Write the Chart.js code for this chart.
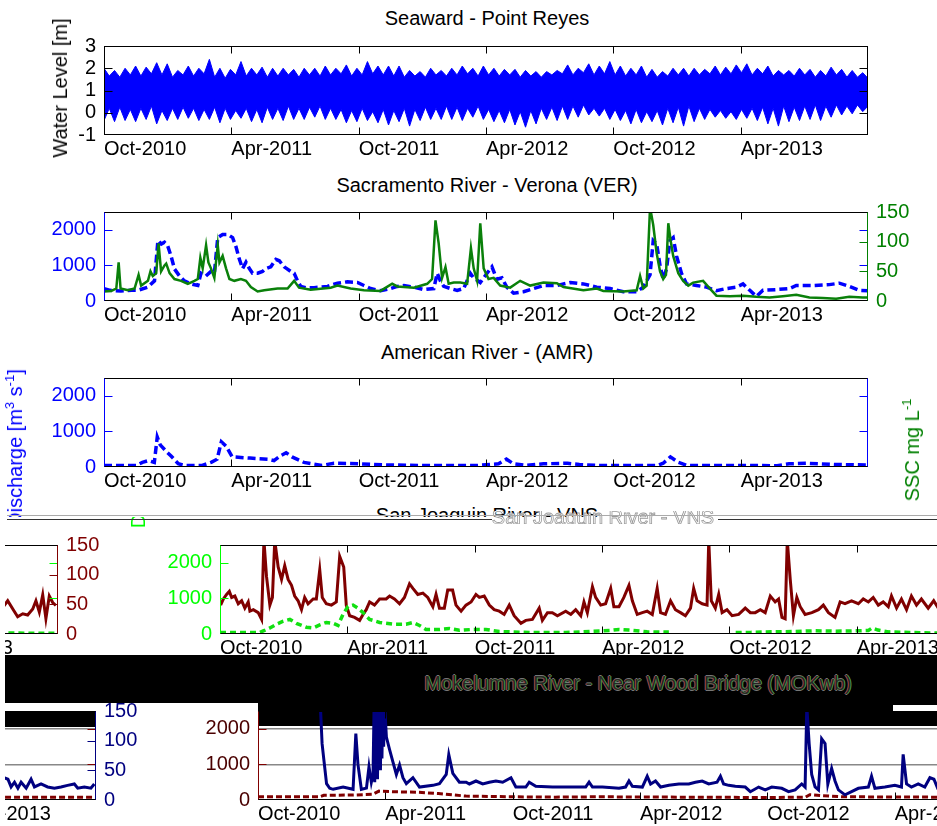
<!DOCTYPE html>
<html>
<head>
<meta charset="utf-8">
<title>Water level, discharge and SSC</title>
<script src="https://cdn.jsdelivr.net/npm/chart.js@4.4.1/dist/chart.umd.min.js"></script>
<style>
  html, body { margin:0; padding:0; background:#fff; }
  body { position:relative; width:937px; height:826px; overflow:hidden; font-family:'Liberation Sans', Arial, Helvetica, sans-serif; }
  .band { position:absolute; left:0; width:937px; overflow:hidden; }
  canvas { position:absolute; }
  .txt { position:absolute; font-size:20px; line-height:24px; white-space:nowrap; }
  .ctr { transform:translateX(-50%); }
  .rot { transform:translate(-50%,-50%) rotate(-90deg); }
  sup { font-size:13px; line-height:0; vertical-align:8px; }
  .blk { position:absolute; background:#000; }
  .rule { position:absolute; height:1px; }
</style>
</head>
<body>

<div id="upper" class="band" style="top:0;height:517px">
  <div class="txt ctr" style="left:487px;top:6px">Seaward - Point Reyes</div>
  <canvas id="c1" width="937" height="145" style="left:0;top:26px"></canvas>
  <div class="txt rot" style="left:60px;top:88px">Water Level [m]</div>

  <div class="txt ctr" style="left:487px;top:173px">Sacramento River - Verona (VER)</div>
  <canvas id="c2" width="937" height="145" style="left:0;top:192px"></canvas>

  <div class="txt ctr" style="left:487px;top:340px">American River - (AMR)</div>
  <canvas id="c3" width="937" height="145" style="left:0;top:358px"></canvas>

  <div class="txt rot" style="left:15px;top:448px;color:#0000ff">Discharge [m<sup>3</sup> s<sup>-1</sup>]</div>
  <div class="txt rot" style="left:912px;top:450px;color:#008000">SSC mg L<sup>-1</sup></div>

  <div class="txt ctr" style="left:487px;top:503px">San Joaquin River - VNS</div>
</div>

<div id="middle" class="band" style="top:517px;height:138px">
  <canvas id="c4a" width="937" height="145" style="left:116px;top:8px"></canvas>
  <canvas id="c4b" width="937" height="145" style="left:-810px;top:8px"></canvas>
  <div class="txt rot" style="left:138px;top:4px;color:#00ff00">D</div>
</div>

<div class="band" style="top:511px;height:13px">
  <div class="txt ctr" style="left:603px;top:-6px;color:#fff;-webkit-text-stroke:0.8px #999">San Joaquin River - VNS</div>
</div>
<div class="rule" style="left:7px;top:515px;width:930px;background:#aaa"></div>
<div class="rule" style="left:7px;top:519px;width:485px;background:#333"></div>
<div class="rule" style="left:718px;top:519px;width:219px;background:#333"></div>

<div id="lower" class="band" style="top:655px;height:171px">
  <div class="blk" style="left:5px;top:0;width:932px;height:48px"></div>
  <div class="blk" style="left:258px;top:48px;width:679px;height:23px"></div>
  <div class="blk" style="left:5px;top:57px;width:90px;height:15px"></div>
  <div style="position:absolute;left:893px;top:50px;width:44px;height:7px;background:#fff"></div>
  <div class="txt ctr" style="left:638px;top:16px;color:#262626;text-shadow:1px 0 0 #4a9a4a,-1px 0 0 #a04848,0 1px 0 #777,0 -1px 0 #777">Mokelumne River - Near Wood Bridge (MOKwb)</div>
  <canvas id="c5a" width="937" height="145" style="left:154px;top:36px"></canvas>
  <canvas id="c5b" width="937" height="145" style="left:-772px;top:36px"></canvas>
</div>

<div style="position:absolute;left:0;top:521px;width:5px;height:305px;background:#fff"></div>

<script>
// ---- time axis: months since 1 Oct 2010 ----
const xTickMonths = [0, 6, 12, 18, 24, 30, 36];
const xTickLabels = ['Oct-2010', 'Apr-2011', 'Oct-2011', 'Apr-2012', 'Oct-2012', 'Apr-2013', ''];

// ---- Point Reyes water level [m]: high/low envelope per half spring-neap cycle ----
const tideHighSpring = [2.0,1.9,2.0,2.1,2.05,2.25,2.2,1.9,2.1,2.0, 2.4,2.0,1.95,2.3,2.0,2.05,2.0,2.0,1.95,2.0,
  2.0,2.1,2.0,2.15,2.0,2.3,2.1,2.1,2.1,1.9, 1.85,2.0,1.9,2.0,2.1,2.0,2.1,2.0,1.95,1.95,
  1.9,1.85,1.85,1.9,2.15,2.0,2.2,2.1,2.3,2.1, 2.0,2.1,1.95,1.85,2.0,2.0,2.0,1.95,2.1,2.05,
  2.15,2.2,2.0,2.1,1.9,1.9,2.0,1.95,1.9,2.05, 1.95,1.9,1.8];
const tideHighNeap = [1.65,1.6,1.7,1.65,1.75,1.7,1.6,1.7,1.65,1.75, 1.6,1.55,1.7,1.65,1.7,1.6,1.65,1.7,1.6,1.7,
  1.65,1.7,1.75,1.65,1.7,1.75,1.7,1.65,1.6,1.65, 1.6,1.7,1.65,1.7,1.75,1.65,1.7,1.65,1.7,1.6,
  1.65,1.6,1.7,1.75,1.7,1.8,1.7,1.75,1.7,1.65, 1.7,1.6,1.6,1.65,1.7,1.65,1.7,1.75,1.7,1.75,
  1.8,1.7,1.75,1.65,1.7,1.65,1.7,1.6,1.65,1.7, 1.6,1.6,1.55];
const tideLowSpring = [-0.35,-0.4,-0.35,-0.4,-0.3,-0.5,-0.35,-0.3,-0.25,-0.35, -0.3,-0.45,-0.3,-0.25,-0.4,-0.45,-0.3,-0.35,-0.3,-0.3,
  -0.2,-0.3,-0.3,-0.45,-0.4,-0.35,-0.45,-0.55,-0.4,-0.6, -0.35,-0.3,-0.3,-0.3,-0.35,-0.2,-0.3,-0.4,-0.45,-0.55,
  -0.65,-0.5,-0.3,-0.35,-0.3,-0.2,-0.1,-0.15,-0.3,-0.35, -0.5,-0.45,-0.4,-0.55,-0.45,-0.6,-0.4,-0.3,-0.2,-0.25,
  -0.3,-0.25,-0.35,-0.5,-0.6,-0.4,-0.35,-0.3,-0.35,-0.2, -0.1,-0.05,0.05];
const tideLowNeap = [0.2,0.25,0.15,0.2,0.3,0.1,0.2,0.25,0.2,0.15, 0.25,0.2,0.1,0.2,0.15,0.25,0.2,0.3,0.2,0.25,
  0.3,0.2,0.15,0.1,0.2,0.05,0.15,0.1,0.2,0.15, 0.25,0.2,0.3,0.25,0.2,0.3,0.15,0.1,0.15,0.05,
  0.1,0.2,0.25,0.3,0.3,0.35,0.2,0.2,0.15,0.1, 0.15,0.05,0.1,0.2,0.25,0.3,0.2,0.15,0.1,0.05,
  0.15,0.2,0.25,0.2,0.3,0.25,0.3,0.35,0.3,0.35, 0.3,0.35,0.3];

// ---- Sacramento River at Verona ----
const verQMonth = [0,0.3,0.8,1.3,1.6,2.07,2.38,2.54,2.7,2.85, 3.0,3.16,3.32,3.56,3.79,4.10,4.42,4.57,4.8,5.04,
  5.2,5.36,5.59,5.83,6.06,6.22,6.38,6.53,6.69,6.85, 7.0,7.24,7.47,7.63,7.86,8.10,8.26,8.49,8.80,8.96,
  9.12,9.27,9.51,9.9,10.53,11.0,11.47,11.94,12.25,12.56, 13.03,13.50,13.82,14.13,14.60,15.07,15.54,15.70,15.85,16.01,
  16.32,16.64,16.95,17.26,17.42,17.73,18.05,18.28,18.51,18.75, 18.98,19.30,19.77,20.24,20.71,21.34,21.97,22.59,23.22,23.85,
  24.47,25.10,25.41,25.73,25.88,26.04,26.20,26.35,26.51,26.67, 26.82,26.98,27.21,27.45,27.92,28.39,28.86,29.33,29.80,30.11,
  30.43,30.74,31.05,31.68,32.30,32.62,33.40,34.18,34.65,35.12, 35.59,36];
const verQ = [348,300,280,300,300,390,565,1700,1600,1650, 1550,1260,900,700,565,480,435,780,700,830,
  780,1780,1870,1870,1780,1520,1170,910,1090,910, 780,780,830,910,960,1170,1130,960,830,780,
  565,410,375,375,410,500,540,520,435,350, 290,350,410,435,390,320,350,780,565,410,
  350,300,350,780,650,520,780,960,610,650, 390,220,260,350,435,435,520,480,390,350,
  260,260,390,740,1700,1610,1000,610,910,1700, 1780,1260,780,480,435,390,290,350,390,480,
  300,130,300,320,350,435,435,460,500,410, 300,290];
const verSscMonth = [0,0.34,0.58,0.69,0.78,1.13,1.44,1.63,1.75,2.07, 2.19,2.30,2.46,2.57,2.69,2.85,2.93,3.09,3.32,3.63,
  3.95,4.26,4.42,4.54,4.65,4.81,4.92,5.04,5.20,5.36, 5.44,5.59,5.75,5.91,6.14,6.45,6.69,6.92,7.24,7.55,
  8.18,8.65,8.96,9.19,9.74,10.68,11.0,11.62,12.25,13.03, 13.58,13.82,14.60,15.23,15.46,15.62,15.77,15.93,16.09,16.24,
  16.48,16.79,17.11,17.29,17.42,17.58,17.73,17.89,18.12,18.36, 18.67,19.14,19.61,20.08,20.71,21.34,21.65,22.59,23.22,23.53,
  24.47,25.10,25.26,25.41,25.57,25.73,25.88,26.04,26.20,26.35, 26.48,26.59,26.70,26.82,27.06,27.29,27.53,27.76,28.23,28.55,
  28.86,29.49,30.11,30.74,31.36,31.99,32.62,33.24,33.87,34.50, 35.12,35.75,36];
const verSsc = [16,17,21,65,21,18,21,44,26,34, 50,42,47,97,50,60,63,47,37,34,
  29,34,37,73,55,94,65,55,39,94, 65,76,55,37,34,37,34,23.5,16,18,
  21,21,34,22.5,19,22.5,26,21,18,17, 29,24.5,22.5,29,37,136,97,39,57,29,
  31,31,29,89,55,34,131,55,37,39, 26,22.5,34,26,31,30,23.5,18,21,17,
  16,18,42,21,26,158,128,81,50,37, 44,131,102,76,47,34,26,31,34,21,
  9,8,9,7,6,8,10.5,6,5,4, 7,6,6];

// ---- American River ----
const amrMonth = [0,1.52,1.81,2.09,2.37,2.51,2.65,2.93,3.16,3.50, 3.78,4.63,5.05,5.33,5.53,5.76,6.04,6.88,7.73,8.01,
  8.30,8.58,8.86,9.42,10.27,10.84,11.96,13.09,14.79,17.61, 18.59,18.96,19.30,19.86,20.71,21.84,22.40,23.25,26.07,26.35,
  26.69,27.06,27.48,30.02,31.72,32.28,33.13,34.54,36];
const amrQ = [45,45,130,180,130,840,620,440,310,90, 45,45,130,220,710,580,285,250,220,180,
  310,400,285,130,45,105,90,60,45,45, 90,220,90,45,90,105,70,45,45,105,
  285,130,45,45,35,90,105,70,55];

// ---- San Joaquin River at Vernalis ----
const vnsQMonth = [0,1.88,2.04,2.35,2.66,2.98,3.29,3.60,4.07,4.39, 4.70,5.01,5.33,5.56,5.80,6.03,6.27,6.50,6.74,7.05,
  7.52,8.15,8.77,9.09,9.40,9.71,10.34,10.81,11.28,11.90, 12.53,13.16,14.72,16.29,17.0,18.41,18.8,19.27,20.13,21.15,
  21.2,24.3,25.0,26.0,27.0,28.0,29.0,29.76,30.55,30.73, 31.0,31.5,32.5,33.5,35,36];
const vnsQ = [43,43,85,170,275,360,410,300,190,170, 256,325,300,240,555,770,812,726,600,410,
  325,275,275,325,240,128,128,154,103,128, 128,68,43,43,60,100,128,110,60,55,
  null,40,45,60,70,90,80,85,100,170, 110,60,43,30,20,20];
const vnsSscMonth = [0.03,0.16,0.31,0.44,0.55,0.70,0.86,1.02,1.17,1.33, 1.41,1.57,1.80,1.96,2.07,2.19,2.35,2.47,2.58,2.74,
  2.90,3.05,3.21,3.37,3.52,3.68,3.84,3.99,4.15,4.39, 4.54,4.70,4.82,5.01,5.25,5.48,5.64,5.83,5.95,6.11,
  6.34,6.58,6.74,6.89,7.05,7.28,7.52,7.83,7.99,8.22, 8.46,8.69,8.93,9.09,9.32,9.56,9.79,10.03,10.18,10.34,
  10.57,10.73,10.96,11.12,11.36,11.59,11.83,12.06,12.22,12.45, 12.69,12.92,13.16,13.39,13.63,13.86,14.18,14.41,14.72,15.04,
  15.19,15.43,15.66,15.90,16.29,16.53,16.76,17.00,17.15,17.31, 17.55,17.70,17.94,18.17,18.41,18.56,18.80,19.03,19.27,19.43,
  19.66,19.90,20.13,20.37,20.60,20.76,20.99,21.23,21.46,21.70, 21.93,22.17,22.32,22.48,22.72,22.95,23.03,23.15,23.34,23.50,
  23.66,23.89,24.13,24.44,24.75,24.99,25.22,25.46,25.69,25.93, 26.16,26.32,26.48,26.63,26.73,26.87,27.02,27.18,27.34,27.57,
  27.89,28.20,28.43,28.67,28.98,29.22,29.45,29.76,30.08,30.31, 30.55,30.78,31.02,31.25,31.49,31.64,31.88,32.11,32.35,32.58,
  32.82,33.05,33.37,33.63,33.87,34.10,34.34,34.57,34.81,34.96, 35.12,35.28,35.43,35.59,35.75,35.90];
const vnsSsc = [48.7,59,66.7,71.8,61.6,64,51,56,43.6,54, 38.5,41,36,24.6,158,97.5,48.7,61.6,158,113,
  92,115,92,82,64,56,41,61.6,51,59, 59,108,61.6,51,48.7,54,131,113,48.7,30.8,
  28,23,33,41,54,48.7,59,59,64,59, 51,61.6,84.6,77,66.7,69,61.6,46,66.7,43.6,
  43.6,74,74,48.7,38.5,48.7,54,66.7,61.6,64, 48.7,41,38.5,33,48.7,30.8,18,23,24.6,43.6,
  23,36,36,30.8,38.5,33,41,30.8,54,36, 79.5,61.6,48.7,51,77,46,46,61.6,82,56,
  33,36,38.5,33,77,36,33,56,41,36, 30.8,43.6,77,56,51,48.7,158,56,43.6,66.7,
  36,41,30.8,33,43.6,36,36,41,36,64, 54,59,28,25.6,158,92,30.8,61.6,46,33,
  36,41,48.7,36,28,54,51,56,51,59, 54,61.6,48.7,54,46,64,43.6,59,41,64,
  48.7,59,43.6,56,42,29,34,32,42,56, 37,66,26,64,53,48];

// ---- Mokelumne River near Wood Bridge ----
const mokQMonth = [0,2.9,3.1,4.5,5.4,5.7,6.5,7.5,8.5,9.8, 12,14,16,18,20,22,24,25.8,26.0,26.6, 27.5,30,32,34,36];
const mokQ = [90,90,130,140,160,250,230,220,180,110, 90,80,90,85,80,75,70,80,150,120, 90,85,80,80,75];
const mokSscMonth = [2.94,3.02,3.10,3.23,3.38,3.54,4.01,4.48,4.61,4.71, 4.87,5.11,5.23,5.34,5.42,5.47,5.50,5.53,5.57,5.60,
  5.63,5.67,5.70,5.73,5.77,5.80,5.84,5.88,5.92,5.97, 6.05,6.20,6.36,6.52,6.67,6.83,6.99,7.30,7.61,8.24,
  8.55,8.87,8.99,9.18,9.49,9.81,9.96,10.27,10.59,10.90, 11.21,11.53,11.92,12.15,12.62,12.78,13.09,13.88,14.66,15.44,
  15.60,15.76,16.23,17.01,17.32,17.48,17.64,18.11,18.34,18.50, 18.73,18.97,19.36,19.83,20.30,20.61,20.93,21.24,21.63,21.79,
  21.94,22.18,22.49,22.96,23.20,23.59,23.90,24.21,24.68,25.00, 25.31,25.62,25.78,25.86,25.97,26.09,26.25,26.41,26.56,26.72,
  26.85,27.03,27.19,27.35,27.66,27.97,28.29,28.76,28.91,29.07, 29.54,30.01,30.32,30.40,30.56,30.79,31.11,31.42,31.66,31.85,
  32.0,32.16,32.32,32.47,32.71,32.94,33.10,33.41,33.72,34.04, 34.35,34.66,34.98,35.14,35.45,35.76,35.92];
const mokSsc = [158,95,69,27.6,19.7,18,21.8,18,112,60, 18,20,56,30,43,158,30,158,40,158,
  35,158,60,158,50,158,70,158,90,158, 106,85,64,43,59,37.6,27.6,37.6,21.8,24.7,
  27.6,43,76.6,45,30,30,27,32,27,30, 32,30,37.6,21.8,21.8,30,23,21.8,21.8,21.8,
  30,21.8,21.8,19.7,21.8,32,23,21.8,40,27, 32,21.8,24.7,27,27,30,32,27,30,40,
  27,24.7,23,21.8,14,21.8,17,21.8,19.7,14, 17,27,21.8,158,95,43,22,17,103,95,
  27,53,32,17,8.7,14,19.7,21.8,40,19.7, 21.8,24.7,21.8,77,27,21.8,27,21.8,37.6,35,
  22,30,20,30,20,35,22,27,22,20, 22,24.7,27,20,22,20,27];

// ---- axis ranges ----
const levelTicks = [-1, 0, 1, 2, 3];
const flowTicks = [0, 1000, 2000];
const sscTicks = [0, 50, 100, 150];

// ---- layout constants ----
const PLOT_LEFT = 104, PLOT_RIGHT = 868, CANVAS_W = 937, PAD_TOP = 14, X_AXIS_H = 36;

Chart.defaults.font.family = "'Liberation Sans', Arial, Helvetica, sans-serif";
Chart.defaults.font.size = 20;
Chart.defaults.color = '#000';

const pts = (xs, ys) => xs.map((x, i) => ({ x, y: ys[i] }));

// Box outline with inward tick marks on all four sides
const frame = {
  id: 'frame',
  afterDatasetsDraw(chart, _args, o) {
    const { ctx, chartArea: a, scales } = chart;
    const L = Math.round(a.left) + 0.5, R = Math.round(a.right) - 0.5;
    const T = Math.round(a.top) + 0.5, B = Math.round(a.bottom) - 0.5;
    const seg = (x1, y1, x2, y2, c) => { ctx.strokeStyle = c; ctx.beginPath(); ctx.moveTo(x1, y1); ctx.lineTo(x2, y2); ctx.stroke(); };
    ctx.save();
    ctx.lineWidth = 1;
    ctx.setLineDash([]);
    scales.x.ticks.forEach(t => {
      if (t.value <= scales.x.min || t.value >= scales.x.max) return;
      const px = Math.round(scales.x.getPixelForValue(t.value)) + 0.5;
      seg(px, T, px, T + 7, '#000');
      seg(px, B, px, B - 7, '#000');
    });
    const inner = (sc, c, both) => sc.ticks.forEach(t => {
      if (t.value <= sc.min || t.value >= sc.max) return;
      const py = Math.round(sc.getPixelForValue(t.value)) + 0.5;
      if (both) seg(L, py, L + 8, py, c);
      seg(R, py, R - 8, py, c);
    });
    inner(scales.y, o.left, true);
    if (o.rightTicks) inner(scales.y2, o.right, false);
    seg(L - 0.5, T, R + 0.5, T, '#000');
    seg(L - 0.5, B, R + 0.5, B, '#000');
    seg(L, T, L, B, o.left);
    seg(R, T, R, B, o.right);
    ctx.restore();
  }
};

function panel(id, p) {
  return new Chart(document.getElementById(id), {
    type: 'line',
    data: { datasets: p.datasets() },
    options: {
      responsive: false,
      animation: false,
      devicePixelRatio: 1,
      layout: { padding: { top: PAD_TOP, left: 0, right: 0, bottom: 0 } },
      elements: { point: { radius: 0 }, line: { tension: 0 } },
      plugins: {
        legend: { display: false },
        tooltip: { enabled: false },
        frame: { left: p.leftColor, right: p.rightColor, rightTicks: !!p.right }
      },
      scales: {
        x: {
          type: 'linear', min: 0, max: 36,
          grid: { display: false, drawTicks: false },
          border: { display: false },
          afterBuildTicks: s => { s.ticks = xTickMonths.map(v => ({ value: v })); },
          ticks: { align: 'start', autoSkip: false, maxRotation: 0, minRotation: 0, padding: 2, color: '#000',
                   callback: (v, i) => xTickLabels[i] },
          afterFit: s => { s.height = X_AXIS_H; }
        },
        y: {
          position: 'left', min: p.left.min, max: p.left.max,
          grid: Object.assign({ display: false }, p.left.grid || {}, { drawTicks: false }),
          border: { display: false },
          afterBuildTicks: s => { s.ticks = p.left.ticks.map(v => ({ value: v })); },
          ticks: { autoSkip: false, color: p.leftLabel || p.leftColor, padding: 8, callback: v => String(v) },
          afterFit: s => { s.width = PLOT_LEFT; }
        },
        y2: {
          position: 'right', min: p.right ? p.right.min : 0, max: p.right ? p.right.max : 1,
          grid: { display: false, drawTicks: false },
          border: { display: false },
          afterBuildTicks: s => { s.ticks = (p.right ? p.right.ticks : []).map(v => ({ value: v })); },
          ticks: { autoSkip: false, display: !!p.right, color: p.rightColor, padding: 8, callback: v => String(v) },
          afterFit: s => { s.width = CANVAS_W - PLOT_RIGHT; }
        }
      }
    },
    plugins: [frame]
  });
}

// interleave spring and neap envelope values on an even time grid
const tideHigh = [], tideLow = [];
tideHighSpring.forEach((v, k) => {
  tideHigh.push(v, tideHighNeap[k]);
  tideLow.push(tideLowSpring[k], tideLowNeap[k]);
});
const tideMonth = tideHigh.map((_, i) => i * 36 / (tideHigh.length - 1));

const BLUE = '#0000ff';

panel('c1', {
  left: { min: -1, max: 3, ticks: levelTicks }, leftColor: '#000', rightColor: '#000', right: null,
  datasets: () => [
    { data: pts(tideMonth, tideHigh), borderColor: BLUE, backgroundColor: BLUE, borderWidth: 1, fill: '+1' },
    { data: pts(tideMonth, tideLow), borderColor: BLUE, borderWidth: 1, fill: false }
  ]
});

panel('c2', {
  left: { min: 0, max: 2500, ticks: flowTicks }, leftColor: BLUE,
  right: { min: 0, max: 150, ticks: sscTicks }, rightColor: '#008000',
  datasets: () => [
    { data: pts(verSscMonth, verSsc), yAxisID: 'y2', borderColor: '#0a800a', borderWidth: 2.5, fill: false },
    { data: pts(verQMonth, verQ), yAxisID: 'y', borderColor: BLUE, borderWidth: 3.5, borderDash: [8, 4], fill: false }
  ]
});

panel('c3', {
  left: { min: 0, max: 2500, ticks: flowTicks }, leftColor: BLUE, rightColor: BLUE, right: null,
  datasets: () => [
    { data: pts(amrMonth, amrQ), yAxisID: 'y', borderColor: BLUE, borderWidth: 3.5, borderDash: [8, 4], fill: false }
  ]
});

const vnsPanel = {
  left: { min: 0, max: 2500, ticks: flowTicks }, leftColor: '#00ff00',
  right: { min: 0, max: 150, ticks: sscTicks }, rightColor: '#800000',
  datasets: () => [
    { data: pts(vnsQMonth, vnsQ), yAxisID: 'y', borderColor: '#11e011', borderWidth: 3.5, borderDash: [6, 4], fill: false, spanGaps: false },
    { data: pts(vnsSscMonth, vnsSsc), yAxisID: 'y2', borderColor: '#800000', borderWidth: 3, fill: false }
  ]
};
panel('c4a', vnsPanel);
panel('c4b', vnsPanel);

const mokPanel = {
  left: { min: 0, max: 2500, ticks: flowTicks,
          grid: { display: true, drawOnChartArea: true, lineWidth: 1.5,
                  color: c => (c.tick && c.tick.value > 0 ? '#888' : 'rgba(0,0,0,0)') } },
  leftColor: '#800000', leftLabel: '#4a0000',
  right: { min: 0, max: 150, ticks: sscTicks }, rightColor: '#000080',
  datasets: () => [
    { data: pts(mokSscMonth, mokSsc), yAxisID: 'y2', borderColor: '#000080', borderWidth: 3, fill: false },
    { data: pts(mokQMonth, mokQ), yAxisID: 'y', borderColor: '#800000', borderWidth: 3, borderDash: [6, 3], fill: false }
  ]
};
panel('c5a', mokPanel);
panel('c5b', mokPanel);
</script>
</body>
</html>
